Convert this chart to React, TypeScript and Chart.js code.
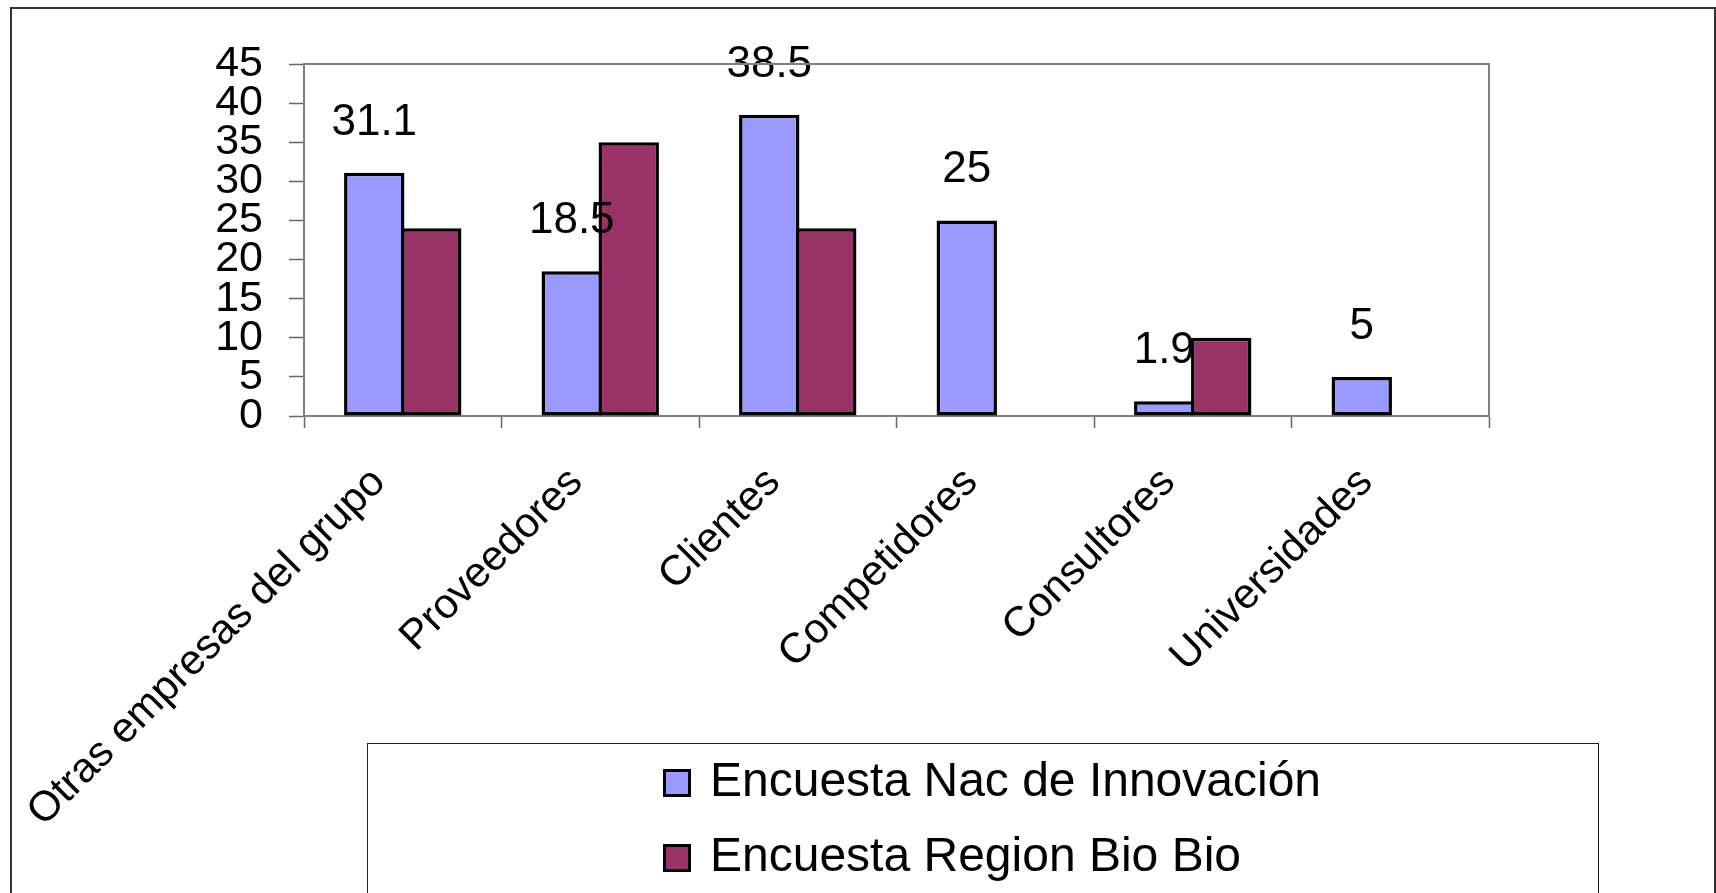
import React, { useEffect, useRef } from "react";
import { Chart, registerables } from "chart.js";

Chart.register(...registerables);

const categories = [
  "Otras empresas del grupo",
  "Proveedores",
  "Clientes",
  "Competidores",
  "Consultores",
  "Universidades",
];
const seriesNames = ["Encuesta Nac de Innovación", "Encuesta Region Bio Bio"];
const nacValues: (number | null)[] = [31.1, 18.5, 38.5, 25, 1.9, 5];
const bioBioValues: (number | null)[] = [24, 35, 24, null, 10, null];
const seriesColors = ["#9999FF", "#993366"];
const yMin = 0;
const yMax = 45;
const yStep = 5;

const FONT = '"Liberation Sans", Arial, sans-serif';

const framePlugin = {
  id: "frame",
  beforeDraw(chart: any) {
    const ctx = chart.ctx;
    ctx.save();
    ctx.fillStyle = "#ffffff";
    ctx.fillRect(0, 0, chart.width, chart.height);
    ctx.restore();
  },
  afterDraw(chart: any) {
    const ctx = chart.ctx;
    const { left, top, right, bottom } = chart.chartArea;
    ctx.save();
    // plot area top/right border
    ctx.strokeStyle = "#808080";
    ctx.lineWidth = 2;
    ctx.beginPath();
    ctx.moveTo(left, top);
    ctx.lineTo(right, top);
    ctx.lineTo(right, bottom);
    ctx.stroke();
    // outer frame
    ctx.strokeStyle = "#333333";
    ctx.lineWidth = 2;
    ctx.strokeRect(11, 8, 1704, 900);
    // legend box
    ctx.strokeStyle = "#222222";
    ctx.lineWidth = 1;
    ctx.strokeRect(367.5, 743.5, 1231, 200);
    // legend entries
    const ds = chart.data.datasets;
    ctx.font = `48px ${FONT}`;
    ctx.textBaseline = "alphabetic";
    ctx.textAlign = "left";
    ds.forEach((d: any, i: number) => {
      const y0 = 769 + i * 75;
      ctx.fillStyle = "#000000";
      ctx.fillRect(663, y0, 28, 28);
      ctx.fillStyle = d.backgroundColor;
      ctx.fillRect(666, y0 + 3, 22, 22);
      ctx.fillStyle = "#000000";
      ctx.fillText(d.label, 710, y0 + 27);
    });
    ctx.restore();
  },
  afterDatasetsDraw(chart: any) {
    const ctx = chart.ctx;
    const meta = chart.getDatasetMeta(0);
    const values = chart.data.datasets[0].data;
    ctx.save();
    ctx.font = `44px ${FONT}`;
    ctx.fillStyle = "#000000";
    ctx.textAlign = "center";
    ctx.textBaseline = "alphabetic";
    meta.data.forEach((bar: any, i: number) => {
      const v = values[i];
      if (v === null || v === undefined) return;
      ctx.fillText(String(v), bar.x, bar.y - 38);
    });
    ctx.restore();
  },
};

export default function App() {
  const ref = useRef<HTMLCanvasElement | null>(null);

  useEffect(() => {
    if (!ref.current) return;
    const chart = new Chart(ref.current, {
      type: "bar",
      data: {
        labels: categories,
        datasets: [
          {
            label: seriesNames[0],
            data: nacValues,
            backgroundColor: seriesColors[0],
            borderColor: "#000000",
            borderWidth: 3.5,
            borderSkipped: false,
          },
          {
            label: seriesNames[1],
            data: bioBioValues,
            backgroundColor: seriesColors[1],
            borderColor: "#000000",
            borderWidth: 3.5,
            borderSkipped: false,
          },
        ],
      },
      options: {
        animation: false,
        responsive: false,
        devicePixelRatio: 1,
        categoryPercentage: 0.577,
        barPercentage: 1.06,
        layout: { padding: { top: 64, right: 227, left: 0, bottom: 0 } },
        plugins: {
          legend: { display: false },
          tooltip: { enabled: false },
        },
        scales: {
          x: {
            grid: {
              offset: true,
              drawOnChartArea: false,
              drawTicks: true,
              tickLength: 12,
              color: "#666666",
              tickWidth: 1.5,
            },
            border: { color: "#808080", width: 2 },
            ticks: {
              autoSkip: false,
              minRotation: 45,
              maxRotation: 45,
              padding: 30,
              labelOffset: -24,
              color: "#000000",
              font: { family: FONT, size: 42, lineHeight: 1.2 },
            },
            afterFit(scale: any) {
              scale.height = 477;
              scale.paddingLeft = 0;
              scale.paddingRight = 0;
            },
          },
          y: {
            min: yMin,
            max: yMax,
            grid: {
              drawOnChartArea: false,
              drawTicks: true,
              tickLength: 15,
              color: "#666666",
              tickWidth: 1.5,
            },
            border: { color: "#808080", width: 2 },
            ticks: {
              stepSize: yStep,
              autoSkip: false,
              padding: 26,
              color: "#000000",
              font: { family: FONT, size: 43, lineHeight: 1.0 },
            },
            afterFit(scale: any) {
              scale.width = 304;
              scale.paddingTop = 0;
              scale.paddingBottom = 0;
            },
          },
        },
      },
      plugins: [framePlugin],
    });
    return () => chart.destroy();
  }, []);

  return (
    <div style={{ position: "absolute", left: 0, top: 0, width: 1716, height: 893 }}>
      <canvas ref={ref} width={1716} height={893} style={{ display: "block" }} />
    </div>
  );
}
